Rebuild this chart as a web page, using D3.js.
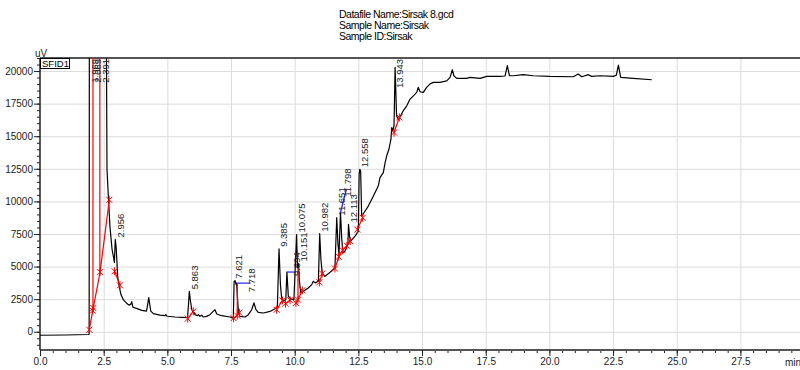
<!DOCTYPE html>
<html lang="en">
<head>
<meta charset="UTF-8">
<title>Sirsak 8 chromatogram</title>
<script src="https://d3js.org/d3.v7.min.js"></script>
<style>
  body { margin: 0; background: #fff; }
  svg { font-family: "Liberation Sans", Arial, sans-serif; }
  .hdr { font-size: 10.5px; letter-spacing: -0.5px; }
  .axis text { font-size: 10px; fill: #222; }
  .peak-lbl { font-size: 9.5px; fill: #222; }
</style>
</head>
<body>
<div id="chart"></div>
<script>
// header text
const headerLines = ["Datafile Name:Sirsak 8.gcd", "Sample Name:Sirsak", "Sample ID:Sirsak"];

// detector trace, [minutes, uV] (solvent peak runs off scale)
const trace = [
  [0.00,-270],[0.98,-250],[1.90,-210],[1.93,-190],[1.94,30000],[2.59,30000],[2.61,21080],[2.63,12460],
  [2.69,10150],[2.75,8000],[2.83,6310],[2.89,5690],[2.92,5310],[2.956,7080],[2.99,6460],[3.02,5380],
  [3.05,4230],[3.11,3460],[3.18,2850],[3.27,2460],[3.38,2230],[3.49,2040],[3.57,2120],[3.60,2310],
  [3.65,1880],[3.81,1770],[4.00,1640],[4.18,1580],[4.22,2000],[4.27,2620],[4.31,2080],[4.35,1580],
  [4.45,1385],[4.71,1270],[4.91,1230],[4.94,1320],[4.99,1190],[5.30,1130],[5.58,1100],[5.79,1080],
  [5.83,2080],[5.863,3100],[5.90,2460],[5.96,1690],[6.02,1480],[6.09,1310],[6.18,1230],[6.22,1320],
  [6.28,1180],[6.35,1270],[6.41,1130],[6.54,1180],[6.67,1310],[6.80,1560],[6.87,1690],[6.94,1360],
  [7.13,1230],[7.46,1130],[7.59,1050],[7.621,3850],[7.66,3920],[7.70,3620],[7.718,3730],[7.79,1540],
  [7.85,1180],[8.05,1130],[8.18,1310],[8.31,1690],[8.40,2210],[8.48,1690],[8.57,1480],[8.77,1440],
  [9.03,1560],[9.23,1770],[9.32,1920],[9.385,6360],[9.44,3620],[9.49,2520],[9.55,2330],[9.65,2460],
  [9.694,4580],[9.75,2720],[9.84,2520],[9.97,2460],[10.075,7460],[10.11,4920],[10.151,5230],[10.18,4000],
  [10.24,2980],[10.34,3100],[10.53,3360],[10.67,3620],[10.73,3870],[10.80,3750],[10.93,3870],[10.982,7520],
  [11.03,5540],[11.08,4520],[11.19,4250],[11.39,4560],[11.58,4900],[11.651,8750],[11.70,6690],[11.74,5920],
  [11.798,9130],[11.85,7080],[11.89,6050],[11.97,6180],[12.09,6690],[12.113,8230],[12.16,7230],[12.20,6950],
  [12.37,7330],[12.50,7720],[12.53,12080],[12.558,12460],[12.59,12310],[12.63,8870],[12.72,9130],[12.89,9640],
  [13.09,10410],[13.28,11180],[13.35,11820],[13.48,12210],[13.55,12980],[13.61,13480],[13.70,14000],[13.78,14770],
  [13.81,15670],[13.85,15410],[13.90,15790],[13.943,20280],[14.00,16560],[14.07,16310],[14.13,16440],[14.26,16950],
  [14.40,17330],[14.53,17850],[14.66,18100],[14.79,18360],[14.85,18750],[14.92,18410],[15.05,18360],[15.18,18750],
  [15.31,19000],[15.44,19130],[15.70,19130],[15.97,19250],[16.10,19510],[16.19,20100],[16.25,19640],[16.36,19440],
  [16.56,19440],[16.75,19440],[16.88,19510],[17.28,19440],[17.54,19590],[18.06,19590],[18.26,19620],[18.35,20410],
  [18.43,19640],[18.58,19640],[18.98,19720],[19.37,19640],[20.02,19590],[20.94,19560],[21.13,19770],[21.27,19560],
  [21.53,19720],[21.66,19590],[21.99,19640],[22.51,19590],[22.63,19690],[22.71,20460],[22.80,19510],[23.29,19440],
  [24.02,19330]
];

// integrated peaks: retention time and apex height (off-scale ones clipped)
const peakTimes = [1.969, 2.069, 2.391, 2.956, 5.863, 7.621, 7.718, 9.385, 9.694, 10.075, 10.151, 10.982, 11.651, 11.798, 12.113, 12.558, 13.943];
const peakTops = [30000, 30000, 30000, 7080, 3100, 3920, 3730, 6360, 4580, 7460, 5230, 7520, 8750, 9130, 8230, 12460, 20280];

// integration baselines drawn in red
const baselineRuns = [
  [[1.935,150],[2.07,1620],[2.09,1820],[2.36,4580],[2.72,10120]],
  [[2.93,4640],[3.14,3560]],
  [[5.80,1000],[6.02,1560]],
  [[7.60,1040],[7.746,1230],[7.83,1460]],
  [[9.29,1690],[9.52,2400]],
  [[9.64,2150],[9.82,2420]],
  [[10.05,2210],[10.13,2460],[10.30,3180]],
  [[10.97,3790],[11.08,4460]],
  [[11.58,4850],[11.73,5750],[11.88,6250],[12.05,6600],[12.18,6950]],
  [[12.46,7840],[12.67,8740]],
  [[13.90,15280],[14.11,16440]]
];
// perpendicular drops: [time, baseline uV, trace uV]
const dropLines = [[2.08,1720,30000],[2.35,4480,30000],[7.746,1230,3700],[10.13,2460,4900],[11.73,5750,5950]];

const xMajor = d3.range(0, 29, 2.5);
const xMinor = d3.range(0, 30, 0.5);
const yMajor = d3.range(0, 20001, 2500);
const yMinor = d3.range(-1000, 21001, 500);

const W = 800, H = 370;
const mLeft = 40, mRight = 800, mTop = 58, mBottom = 350;

const svg = d3.select("#chart").append("svg").attr("width", W).attr("height", H);

const x = d3.scaleLinear().domain([0, 29.84]).range([mLeft, mRight]);
const y = d3.scaleLinear().domain([-1400, 21000]).range([mBottom, mTop]);

svg.append("defs").append("clipPath").attr("id", "plot")
  .append("rect").attr("x", mLeft).attr("y", mTop).attr("width", mRight - mLeft).attr("height", mBottom - mTop);

// header
svg.selectAll(".hdr").data(headerLines).enter().append("text")
  .attr("class", "hdr").attr("x", 339).attr("y", (d, i) => 17.5 + i * 11).text(d => d);

// grid
svg.append("g").attr("transform", `translate(0,${mBottom})`)
  .call(d3.axisBottom(x).tickValues(xMajor.slice(1)).tickSize(-(mBottom - mTop)).tickFormat(""))
  .call(g => g.select(".domain").remove())
  .call(g => g.selectAll("line").attr("stroke", "#dcdcdc"));
svg.append("g").attr("transform", `translate(${mLeft},0)`)
  .call(d3.axisLeft(y).tickValues(yMajor).tickSize(-(mRight - mLeft)).tickFormat(""))
  .call(g => g.select(".domain").remove())
  .call(g => g.selectAll("line").attr("stroke", "#dcdcdc"));

// x axis
svg.append("g").attr("class", "axis").attr("transform", `translate(0,${mBottom})`)
  .call(d3.axisBottom(x).tickValues(xMinor).tickSize(3).tickFormat(""))
  .call(g => g.select(".domain").remove())
  .call(g => g.selectAll("line").attr("stroke", "#222"));
svg.append("g").attr("class", "axis").attr("transform", `translate(0,${mBottom})`)
  .call(d3.axisBottom(x).tickValues(xMajor).tickSize(6).tickPadding(2).tickFormat(d3.format(".1f")))
  .call(g => g.select(".domain").attr("stroke", "#555").attr("stroke-width", 2).attr("d", `M${mLeft},0H${mRight}`))
  .call(g => g.selectAll("line").attr("stroke", "#222"));
svg.append("text").attr("x", 785).attr("y", 366).attr("font-size", 10).attr("fill", "#222").text("min");

// y axis
svg.append("g").attr("class", "axis").attr("transform", `translate(${mLeft},0)`)
  .call(d3.axisLeft(y).tickValues(yMinor).tickSize(3).tickFormat(""))
  .call(g => g.select(".domain").remove())
  .call(g => g.selectAll("line").attr("stroke", "#222"));
svg.append("g").attr("class", "axis").attr("transform", `translate(${mLeft},0)`)
  .call(d3.axisLeft(y).tickValues(yMajor).tickSize(6).tickPadding(1).tickFormat(d3.format("d")))
  .call(g => g.select(".domain").attr("stroke", "#222").attr("stroke-width", 1.5).attr("d", `M0,${mTop}V${mBottom}`))
  .call(g => g.selectAll("line").attr("stroke", "#222"));

// frame top
svg.append("line").attr("x1", mLeft).attr("x2", mRight).attr("y1", mTop).attr("y2", mTop)
  .attr("stroke", "#555").attr("stroke-width", 2);

svg.append("text").attr("x", 35).attr("y", 56.5).attr("font-size", 10).attr("fill", "#222").text("uV");

// trace
const plot = svg.append("g").attr("clip-path", "url(#plot)");
const line = d3.line().x(d => x(d[0])).y(d => y(d[1]));
plot.append("path").datum(trace).attr("d", line)
  .attr("fill", "none").attr("stroke", "#000").attr("stroke-width", 1.2).attr("stroke-linejoin", "round");

// baselines, drops and markers
plot.selectAll(".drop").data(dropLines).enter().append("line")
  .attr("x1", d => x(d[0])).attr("x2", d => x(d[0]))
  .attr("y1", d => y(d[1])).attr("y2", d => y(d[2]))
  .attr("stroke", "red").attr("stroke-width", 1.2);
plot.selectAll(".base").data(baselineRuns).enter().append("path")
  .attr("d", line).attr("fill", "none").attr("stroke", "red").attr("stroke-width", 1.2);
const star = "M-3,-3L3,3M-3,3L3,-3M0,-4L0,4";
plot.selectAll(".mark").data(baselineRuns.flat()).enter().append("path")
  .attr("transform", d => `translate(${x(d[0])},${y(d[1])})`)
  .attr("d", star).attr("stroke", "red").attr("stroke-width", 1).attr("fill", "none");

// peak labels; a few are pushed aside with a blue leader
const leaders = { "7.718": [14, 0, 9], "9.694": [9, 0, 4], "11.798": [6, -24, -16] };
peakTimes.forEach((t, i) => {
  const label = d3.format(".3f")(t);
  const px = x(t), py = y(peakTops[i]);
  const lead = leaders[label];
  let cx = px + 5, by = py - 2;
  if (lead) {
    svg.append("line").attr("x1", px).attr("y1", py).attr("x2", px + lead[0]).attr("y2", py + lead[1])
      .attr("stroke", "#2222ee").attr("stroke-width", 1.2);
    cx = px + lead[0] + 1;
    by = py + lead[2];
  }
  const txt = svg.append("text").attr("class", "peak-lbl").attr("dy", "0.35em").text(label);
  const len = txt.node().getComputedTextLength();
  by = Math.max(by, mTop + len + 1);
  txt.attr("transform", `translate(${cx},${by}) rotate(-90)`);
});

// channel tag
svg.append("rect").attr("x", 40.5).attr("y", 58.5).attr("width", 29).attr("height", 10)
  .attr("fill", "#fff").attr("stroke", "#000");
svg.append("text").attr("x", 42).attr("y", 67).attr("font-size", 9.5).text("SFID1");
</script>
</body>
</html>
